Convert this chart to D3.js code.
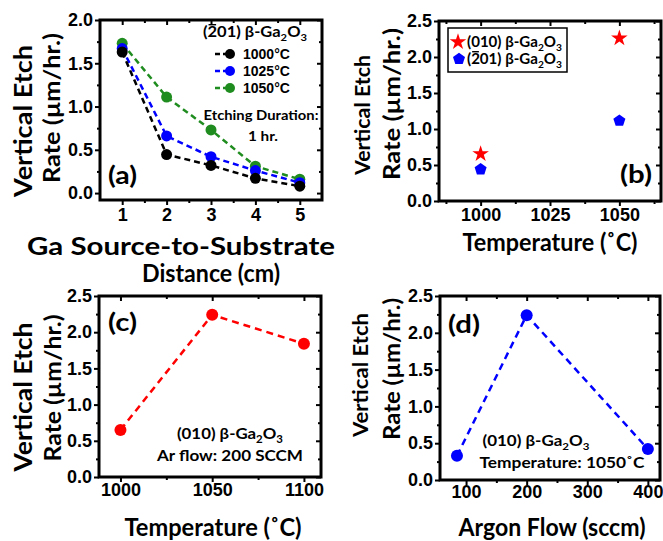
<!DOCTYPE html>
<html><head><meta charset="utf-8">
<script src="https://cdn.jsdelivr.net/npm/d3@7"></script>
<style>
body{margin:0;background:#fff;}
svg{display:block;}
.tick text{font-family:"Liberation Sans",Arial,sans-serif;font-weight:bold;font-size:18px;fill:#000;}
.tick line{stroke:#000;stroke-width:2;}
.domain{display:none;}
</style></head>
<body>
<svg id="chart" width="663" height="541"></svg>
<script>
// ---------- data ----------
const distances = [1, 2, 3, 4, 5];
const rateA1000 = [1.63, 0.445, 0.32, 0.17, 0.08];
const rateA1025 = [1.67, 0.66, 0.42, 0.26, 0.12];
const rateA1050 = [1.73, 1.11, 0.73, 0.31, 0.16];
const legendA = ["1000°C", "1025°C", "1050°C"];

const tempsB = [1000, 1050];
const rateB010 = [0.655, 2.26];
const rateB201 = [0.44, 1.115];

const tempsC = [1000, 1050, 1100];
const rateC = [0.65, 2.24, 1.84];

const flowD = [85, 200, 400];
const rateD = [0.33, 2.24, 0.42];

const ticksYA = [0, 0.5, 1.0, 1.5, 2.0];
const ticksY = [0, 0.5, 1.0, 1.5, 2.0, 2.5];
const ticksXA = [1, 2, 3, 4, 5];
const ticksXB = [1000, 1025, 1050];
const ticksXC = [1000, 1050, 1100];
const ticksXD = [100, 200, 300, 400];

// ---------- drawing ----------
const svg = d3.select("#chart");
const TITLE_FONT = "Lato, 'Open Sans', sans-serif";
const COL = {black:"#000", blue:"#0000ff", green:"#1f8c1f", red:"#ff0000"};

function minorBetween(t) {
  const step = (t[1] - t[0]) / 2, out = [];
  for (let i = 0; i < t.length - 1; i++) out.push(t[i] + step);
  return out;
}

function panel(p) {
  const g = svg.append("g");
  const x = d3.scaleLinear().domain(p.xDomain).range([p.left, p.right]);
  const y = d3.scaleLinear().domain(p.yDomain).range([p.bottom, p.top]);
  const fmtY = d3.format(".1f");
  const xMinor = p.xMinor, yMinor = p.yMinor;
  g.append("g").attr("transform", `translate(0,${p.bottom})`)
    .call(d3.axisBottom(x).tickValues(p.xTicks).tickSize(5).tickSizeOuter(0).tickPadding(p.xPad).tickFormat(d3.format("d")));
  g.append("g").attr("transform", `translate(0,${p.bottom})`)
    .call(d3.axisBottom(x).tickValues(xMinor).tickSize(3).tickSizeOuter(0).tickFormat(""));
  g.append("g").attr("transform", `translate(0,${p.top})`)
    .call(d3.axisTop(x).tickValues(p.xTicks).tickSize(-5).tickSizeOuter(0).tickFormat(""));
  g.append("g").attr("transform", `translate(0,${p.top})`)
    .call(d3.axisTop(x).tickValues(xMinor).tickSize(-3).tickSizeOuter(0).tickFormat(""));
  g.append("g").attr("transform", `translate(${p.left},0)`)
    .call(d3.axisLeft(y).tickValues(p.yTicks).tickSize(5).tickSizeOuter(0).tickPadding(2).tickFormat(fmtY));
  g.append("g").attr("transform", `translate(${p.left},0)`)
    .call(d3.axisLeft(y).tickValues(yMinor).tickSize(3).tickSizeOuter(0).tickFormat(""));
  g.append("g").attr("transform", `translate(${p.right},0)`)
    .call(d3.axisRight(y).tickValues(p.yTicks).tickSize(-5).tickSizeOuter(0).tickFormat(""));
  g.append("g").attr("transform", `translate(${p.right},0)`)
    .call(d3.axisRight(y).tickValues(yMinor).tickSize(-3).tickSizeOuter(0).tickFormat(""));
  g.append("rect").attr("x", p.left).attr("y", p.top)
    .attr("width", p.right - p.left).attr("height", p.bottom - p.top)
    .attr("fill", "none").attr("stroke", "#000").attr("stroke-width", 3);
  return {g, x, y};
}

function fitText(sel, w) {
  if (w) sel.attr("textLength", w).attr("lengthAdjust", "spacingAndGlyphs");
  return sel;
}

function label(g, x, y, str, size, opts = {}) {
  const t = g.append("text").attr("x", x).attr("y", y)
    .attr("font-family", opts.family || TITLE_FONT).attr("font-weight", "bold")
    .attr("font-size", size).attr("fill", "#000")
    .attr("text-anchor", opts.anchor || "start").text(str);
  if (opts.rotate) {
    t.attr("transform", `rotate(-90,${x},${y})`).attr("dominant-baseline", "central");
  }
  return fitText(t, opts.width);
}

function rich(g, x, y, parts, size, opts = {}) {
  const t = g.append("text").attr("x", x).attr("y", y)
    .attr("font-family", TITLE_FONT).attr("font-weight", "bold")
    .attr("font-size", size).attr("fill", "#000")
    .attr("text-anchor", opts.anchor || "start");
  let shift = 0, idx = 0;
  const overIdx = [];
  parts.forEach(pt => {
    const ts = t.append("tspan").text(pt.t);
    if (pt.sub) {
      ts.attr("font-size", size * 0.68).attr("dy", size * 0.25 - shift);
      shift = size * 0.25;
    } else if (shift) {
      ts.attr("dy", -shift); shift = 0;
    }
    if (pt.over) overIdx.push(idx);
    idx += pt.t.length;
  });
  fitText(t, opts.width);
  // overline bars drawn from the rendered glyph extents
  overIdx.forEach(i => {
    const r = t.node().getExtentOfChar(i);
    g.append("line")
      .attr("x1", r.x + 1).attr("x2", r.x + r.width - 1)
      .attr("y1", y - size * 0.82).attr("y2", y - size * 0.82)
      .attr("stroke", "#000").attr("stroke-width", 1.4);
  });
  return t;
}

const ga010 = [{t:"(010) β-Ga"}, {t:"2", sub:true}, {t:"O"}, {t:"3", sub:true}];
const ga201 = [{t:"("}, {t:"2", over:true}, {t:"01) β-Ga"}, {t:"2", sub:true}, {t:"O"}, {t:"3", sub:true}];

function yTitles(g, cfg) {
  label(g, cfg.x1, cfg.c1, "Vertical Etch", cfg.s1, {rotate:true, anchor:"middle", width:cfg.w1});
  label(g, cfg.x2, cfg.c2, "Rate (µm/hr.)", cfg.s2, {rotate:true, anchor:"middle", width:cfg.w2});
}

// ===== Panel (a) =====
{
  const P = panel({left:100, right:322, top:20, bottom:200, xDomain:[0.5,5.5], yDomain:[-0.08,2.0],
    xTicks:ticksXA, xMinor:minorBetween(ticksXA), yTicks:ticksYA, yMinor:minorBetween(ticksYA), xPad:3});
  const series = [
    {v:rateA1050, c:COL.green},
    {v:rateA1025, c:COL.blue},
    {v:rateA1000, c:COL.black}
  ];
  const line = d3.line().x((d,i) => P.x(distances[i])).y(d => P.y(d));
  series.forEach(s => {
    P.g.append("path").datum(s.v).attr("d", line).attr("fill","none")
      .attr("stroke", s.c).attr("stroke-width", 2.5).attr("stroke-dasharray", "6,4");
  });
  series.forEach(s => {
    P.g.selectAll(null).data(s.v).join("circle")
      .attr("cx", (d,i) => P.x(distances[i])).attr("cy", d => P.y(d)).attr("r", 5.5).attr("fill", s.c);
  });
  rich(P.g, 203, 37, ga201, 15, {width:104});
  const legCols = [COL.black, COL.blue, COL.green];
  legendA.forEach((name, i) => {
    const cy = 54 + i * 17;
    P.g.append("line").attr("x1", 215).attr("x2", 229).attr("y1", cy).attr("y2", cy)
      .attr("stroke", legCols[i]).attr("stroke-width", 2.5).attr("stroke-dasharray", "5,3");
    P.g.append("circle").attr("cx", 230).attr("cy", cy).attr("r", 5).attr("fill", legCols[i]);
    label(P.g, 243, cy + 5, name, 14, {family:"'Liberation Sans', Arial, sans-serif"});
  });
  label(P.g, 261, 120, "Etching Duration:", 14, {anchor:"middle", width:115});
  label(P.g, 263, 141, "1 hr.", 14, {anchor:"middle", width:30});
  label(P.g, 108, 184, "(a)", 25, {width:29});
  yTitles(P.g, {x1:22, c1:121, s1:24, w1:152, x2:51, c2:108, s2:23, w2:150});
  label(P.g, 181, 255, "Ga Source-to-Substrate", 24, {anchor:"middle", width:308});
  label(P.g, 211, 282, "Distance (cm)", 24, {anchor:"middle", width:138});
}

// ===== Panel (b) =====
{
  const P = panel({left:439, right:661, top:21, bottom:201, xDomain:[985,1065], yDomain:[0,2.5],
    xTicks:ticksXB, xMinor:[987.5, 1012.5, 1037.5, 1062.5], yTicks:ticksY, yMinor:minorBetween(ticksY), xPad:2});
  const star = d3.symbol().type(d3.symbolStar).size(85);
  const pentagon = {
    draw(ctx, size) {
      const r = Math.sqrt(size / 2.3776);
      for (let k = 0; k < 5; k++) {
        const a = -Math.PI / 2 + k * 2 * Math.PI / 5;
        const px = r * Math.cos(a), py = r * Math.sin(a);
        if (k === 0) ctx.moveTo(px, py); else ctx.lineTo(px, py);
      }
      ctx.closePath();
    }
  };
  const pent = d3.symbol().type(pentagon).size(95);
  P.g.selectAll(null).data(rateB201).join("path").attr("d", pent)
    .attr("transform", (d,i) => `translate(${P.x(tempsB[i])},${P.y(d)})`).attr("fill", COL.blue);
  P.g.selectAll(null).data(rateB010).join("path").attr("d", star)
    .attr("transform", (d,i) => `translate(${P.x(tempsB[i])},${P.y(d)})`).attr("fill", COL.red);
  P.g.append("rect").attr("x", 448).attr("y", 28).attr("width", 119).attr("height", 44)
    .attr("fill", "#fff").attr("stroke", "#000").attr("stroke-width", 1.5);
  P.g.append("path").attr("d", star).attr("transform", "translate(458,42)").attr("fill", COL.red);
  P.g.append("path").attr("d", pent).attr("transform", "translate(459,59)").attr("fill", COL.blue);
  rich(P.g, 467, 47, ga010, 15, {width:95});
  rich(P.g, 467, 64, ga201, 15, {width:95});
  label(P.g, 620, 183, "(b)", 25, {width:32});
  yTitles(P.g, {x1:362, c1:115, s1:20, w1:120, x2:391, c2:104, s2:23, w2:152});
  label(P.g, 550, 251, "Temperature (˚C)", 24, {anchor:"middle", width:175});
}

// ===== Panel (c) =====
{
  const P = panel({left:99, right:321, top:296, bottom:477, xDomain:[988.3,1109.3], yDomain:[0,2.5],
    xTicks:ticksXC, xMinor:minorBetween(ticksXC), yTicks:ticksY, yMinor:minorBetween(ticksY), xPad:1});
  const line = d3.line().x((d,i) => P.x(tempsC[i])).y(d => P.y(d));
  P.g.append("path").datum(rateC).attr("d", line).attr("fill","none")
    .attr("stroke", COL.red).attr("stroke-width", 2.5).attr("stroke-dasharray", "7,5");
  P.g.selectAll(null).data(rateC).join("circle")
    .attr("cx", (d,i) => P.x(tempsC[i])).attr("cy", d => P.y(d)).attr("r", 6).attr("fill", COL.red);
  rich(P.g, 230, 439, ga010, 16, {anchor:"middle", width:106});
  label(P.g, 230, 461, "Ar flow: 200 SCCM", 16, {anchor:"middle", width:146});
  label(P.g, 108, 331, "(c)", 25, {width:29});
  yTitles(P.g, {x1:22, c1:397, s1:24, w1:149, x2:52, c2:388, s2:23, w2:147});
  label(P.g, 213, 536, "Temperature (˚C)", 24, {anchor:"middle", width:177});
}

// ===== Panel (d) =====
{
  const P = panel({left:440, right:660, top:296, bottom:480, xDomain:[57,420], yDomain:[0,2.5],
    xTicks:ticksXD, xMinor:minorBetween(ticksXD), yTicks:ticksY, yMinor:minorBetween(ticksY), xPad:0});
  const line = d3.line().x((d,i) => P.x(flowD[i])).y(d => P.y(d));
  P.g.append("path").datum(rateD).attr("d", line).attr("fill","none")
    .attr("stroke", COL.blue).attr("stroke-width", 2.5).attr("stroke-dasharray", "7,5");
  P.g.selectAll(null).data(rateD).join("circle")
    .attr("cx", (d,i) => P.x(flowD[i])).attr("cy", d => P.y(d)).attr("r", 6).attr("fill", COL.blue);
  rich(P.g, 536, 446, ga010, 15, {anchor:"middle", width:107});
  label(P.g, 562, 468, "Temperature: 1050˚C", 15, {anchor:"middle", width:165});
  label(P.g, 448, 333, "(d)", 25, {width:32});
  yTitles(P.g, {x1:360, c1:375, s1:20, w1:124, x2:391, c2:369, s2:22, w2:142});
  label(P.g, 552, 536, "Argon Flow (sccm)", 24, {anchor:"middle", width:187});
}
</script>
</body></html>
